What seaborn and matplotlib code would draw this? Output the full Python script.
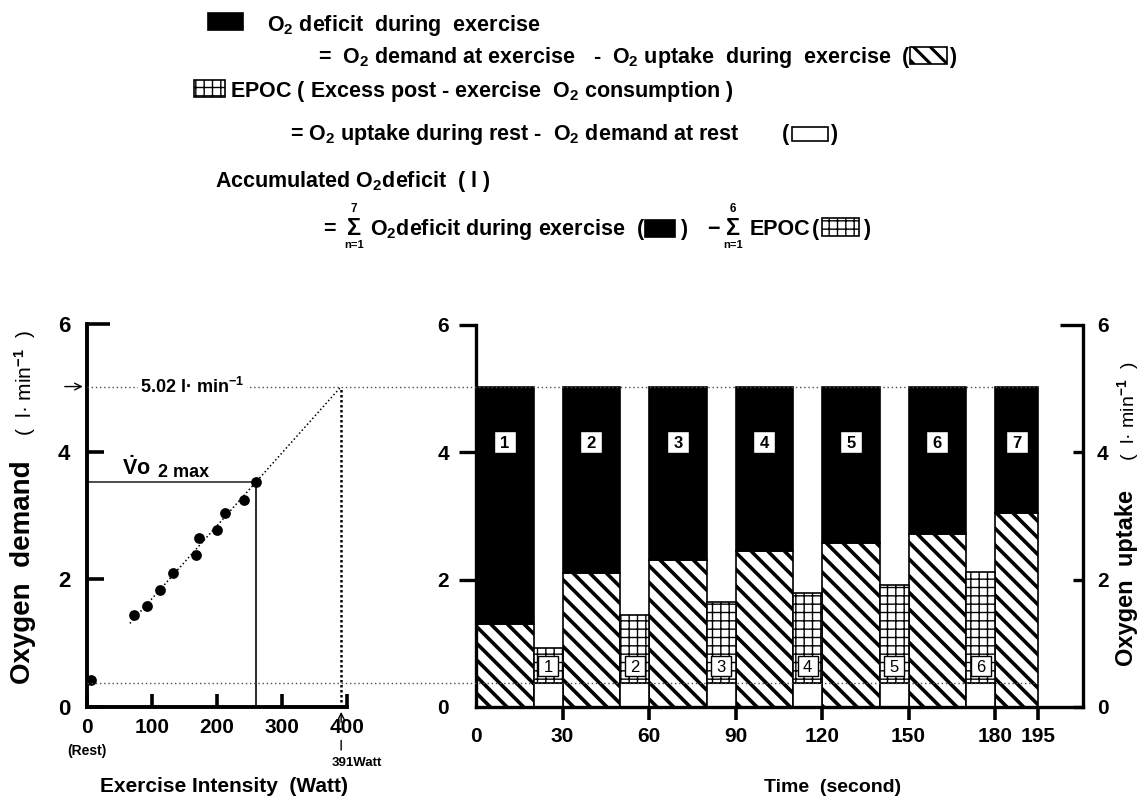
import numpy as np
import pandas as pd
import matplotlib
matplotlib.use("Agg")
import matplotlib.pyplot as plt
import seaborn as sns
from matplotlib.patches import Rectangle
from matplotlib.ticker import FixedLocator, FixedFormatter

# ---------------- data ----------------
# left panel: incremental test (oxygen demand vs. exercise intensity)
watt = [72, 92, 113, 133, 167, 173, 200, 213, 241, 260]
o2_demand = [1.44, 1.58, 1.84, 2.10, 2.38, 2.64, 2.77, 3.04, 3.24, 3.52]
rest_watt = [6]
rest_o2 = [0.43]
vo2max_watt = 260
vo2max = 3.52
fit_watt = [66, 391]
fit_o2 = [1.31, 5.02]
supra_watt = 391
supra_demand = 5.02
rest_demand = 0.38
watt_ticks = [0, 100, 200, 300, 400]
o2_ticks = [0, 2, 4]
o2_top = 6

# right panel: intermittent exercise (oxygen uptake vs. time)
ex_start = [0, 30, 60, 90, 120, 150, 180]
ex_dur = [20, 20, 20, 20, 20, 20, 15]
ex_uptake = [1.31, 2.11, 2.31, 2.45, 2.58, 2.72, 3.04]
ex_labels = ["1", "2", "3", "4", "5", "6", "7"]
rest_start = [20, 50, 80, 110, 140, 170]
rest_dur = [10, 10, 10, 10, 10, 10]
rest_uptake = [0.92, 1.45, 1.65, 1.79, 1.92, 2.12]
rest_labels = ["1", "2", "3", "4", "5", "6"]
time_ticks = [0, 30, 60, 90, 120, 150, 180, 195]

# ---------------- style ----------------
sns.set_theme(style="ticks")
plt.rcParams.update({
    "font.family": ["Liberation Sans", "DejaVu Sans"],
    "font.weight": "bold",
    "mathtext.fontset": "custom",
    "mathtext.rm": "Liberation Sans:bold",
    "mathtext.bf": "Liberation Sans:bold",
    "mathtext.it": "Liberation Sans:bold",
    "mathtext.sf": "Liberation Sans:bold",
    "text.color": "black",
    "axes.labelcolor": "black",
    "axes.edgecolor": "black",
    "xtick.color": "black",
    "ytick.color": "black",
    "hatch.linewidth": 2.6,
    "hatch.color": "black",
})

W, H = 1142, 800
fig = plt.figure(figsize=(W / 100, H / 100), dpi=100)
fig.patch.set_facecolor("white")

ax1 = fig.add_axes([87 / W, 1 - 707 / H, 260 / W, 383 / H])
ax2 = fig.add_axes([476 / W, 1 - 707 / H, 607 / W, 382 / H])
ax3 = ax2.twinx()
ax2.patch.set_visible(False)

# ---------------- left panel ----------------
ax1.set_xlim(0, 400)
ax1.set_ylim(0, 6)
ax1.plot(fit_watt, fit_o2, color="black", lw=1.1, ls=(0, (1, 1.6)), zorder=2)
ax1.hlines(vo2max, 0, vo2max_watt, color="0.3", lw=1.4, zorder=2)
ax1.vlines(vo2max_watt, 0, vo2max, color="0.1", lw=1.3, zorder=2)
ax1.vlines(supra_watt, 0, supra_demand, color="black", lw=1.8,
           linestyles=[(0, (1, 1))], zorder=2)
sns.scatterplot(x=watt, y=o2_demand, ax=ax1, color="black", s=60,
                linewidth=0, zorder=4, legend=False)
sns.scatterplot(x=rest_watt, y=rest_o2, ax=ax1, color="black", s=60,
                linewidth=0, zorder=4, legend=False, clip_on=False)

for side in ("top", "right"):
    ax1.spines[side].set_visible(False)
for side in ("left", "bottom"):
    ax1.spines[side].set_linewidth(2.8)

ax1.set_xticks(watt_ticks)
ax1.set_xticklabels([str(v) for v in watt_ticks])
ax1.set_yticks(o2_ticks)
ax1.set_yticklabels([str(v) for v in o2_ticks])
ax1.yaxis.set_minor_locator(FixedLocator([o2_top]))
ax1.yaxis.set_minor_formatter(FixedFormatter([str(o2_top)]))
ax1.tick_params(axis="x", direction="in", length=9.5, width=2.6,
                labelsize=15, pad=8)
ax1.tick_params(axis="y", which="major", direction="in", length=12.5,
                width=2.6, labelsize=16, pad=12)
ax1.tick_params(axis="y", which="minor", direction="in", length=16.5,
                width=2.6, labelsize=16, pad=12)

# annotations of the left panel
ax1.annotate("", xy=(0, supra_demand), xytext=(-16, 0),
             textcoords="offset points", annotation_clip=False,
             arrowprops=dict(arrowstyle="->", color="black", lw=1.0,
                             shrinkA=0, shrinkB=3))
ax1.annotate("", xy=(supra_watt, 0), xytext=(0, -11),
             textcoords="offset points", annotation_clip=False,
             arrowprops=dict(arrowstyle="->", color="black", lw=1.0,
                             shrinkA=0, shrinkB=3.5))
ax1.annotate("", xy=(supra_watt, 0), xytext=(0, -31),
             textcoords="offset points", annotation_clip=False,
             arrowprops=dict(arrowstyle="-", color="black", lw=1.0,
                             shrinkA=0, shrinkB=24))
ax1.annotate(f"{supra_watt}Watt", xy=(supra_watt, 0), xytext=(-7, -40),
             textcoords="offset points", ha="left", va="center",
             fontsize=9.5, annotation_clip=False)
ax1.annotate("(Rest)", xy=(0, 0), xytext=(0, -32), textcoords="offset points",
             ha="center", va="center", fontsize=10, annotation_clip=False)
ax1.text(54, 3.64, r"$\dot{\mathrm{V}}$o", fontsize=15.5, ha="left",
         va="baseline")
ax1.annotate("2 max", xy=(54, 3.64), xytext=(26, -1.5),
             textcoords="offset points", fontsize=13, ha="left", va="baseline")

# ---------------- right panel ----------------
ax2.set_xlim(0, 210.5)
ax2.set_ylim(0, 6)
ax3.set_ylim(0, 6)

deficit = [supra_demand - u for u in ex_uptake]
epoc = [u - rest_demand for u in rest_uptake]

hatched = ax2.bar(ex_start, ex_uptake, width=ex_dur, align="edge",
                  color="white", edgecolor="black", hatch="\\\\",
                  linewidth=1.2, zorder=1)
ax2.bar(ex_start, deficit, bottom=ex_uptake, width=ex_dur, align="edge",
        color="black", edgecolor="black", linewidth=1.2, zorder=1)
ax2.bar(rest_start, rest_demand, width=rest_dur, align="edge",
        color="white", edgecolor="black", linewidth=1.2, zorder=1)
with plt.rc_context({"hatch.linewidth": 1.0}):
    grid_bars = ax2.bar(rest_start, epoc, bottom=rest_demand, width=rest_dur,
                        align="edge", color="white", edgecolor="black",
                        hatch="++", linewidth=1.2, zorder=1)
for p in grid_bars:
    if hasattr(p, "set_hatch_linewidth"):
        p.set_hatch_linewidth(1.0)
for p in hatched:
    if hasattr(p, "set_hatch_linewidth"):
        p.set_hatch_linewidth(2.6)

# dotted reference lines spanning both panels
x_left = ax2.transData.inverted().transform(
    ax1.transData.transform((0, 0)))[0]
x_end = ex_start[-1] + ex_dur[-1]
for yv in (supra_demand, rest_demand):
    ax2.plot([x_left, x_end], [yv, yv], ls=(0, (1, 2)), color="0.3", lw=1.0,
             clip_on=False, zorder=3)

ax2.text(82, supra_demand, "5.02 l· min$^{-1}$", transform=ax1.transData,
         fontsize=13, ha="left", va="center", zorder=6,
         bbox=dict(facecolor="white", edgecolor="none", pad=1.5))

# numbered boxes
ex_mid = [s + d / 2 for s, d in zip(ex_start, ex_dur)]
rest_mid = [s + d / 2 for s, d in zip(rest_start, rest_dur)]
ax2.scatter(ex_mid, [4.17] * len(ex_mid), marker="s", s=250,
            facecolor="white", edgecolor="black", linewidth=1.0, zorder=4)
for x, lab in zip(ex_mid, ex_labels):
    ax2.text(x, 4.17, lab, ha="center", va="center_baseline", fontsize=12,
             zorder=5)
ax2.scatter(rest_mid, [0.64] * len(rest_mid), marker="s", s=205,
            facecolor="white", edgecolor="black", linewidth=1.0, zorder=4)
for x, lab in zip(rest_mid, rest_labels):
    ax2.text(x, 0.64, lab, ha="center", va="center_baseline", fontsize=12,
             fontweight="normal", zorder=5)

for side in ("top", "right"):
    ax2.spines[side].set_visible(False)
for side in ("left", "bottom"):
    ax2.spines[side].set_linewidth(2.4)
for side in ("top", "left", "bottom"):
    ax3.spines[side].set_visible(False)
ax3.spines["right"].set_linewidth(2.4)

ax2.set_xticks(time_ticks)
ax2.set_xticklabels([str(v) for v in time_ticks])
ax2.set_yticks([0, 2, 4, 6])
ax2.set_yticklabels(["0", "2", "4", "6"])
ax2.tick_params(axis="x", direction="out", length=9.5, width=2.6,
                labelsize=15, pad=5)
ax2.tick_params(axis="y", direction="out", length=12.5, width=2.4,
                labelsize=15, pad=7)
ax2.xaxis.get_major_ticks()[0].tick1line.set_visible(False)
ax2.yaxis.get_major_ticks()[0].tick1line.set_visible(False)

ax3.set_yticks(o2_ticks)
ax3.set_yticklabels([str(v) for v in o2_ticks])
ax3.yaxis.set_minor_locator(FixedLocator([o2_top]))
ax3.yaxis.set_minor_formatter(FixedFormatter([str(o2_top)]))
ax3.tick_params(axis="y", which="major", direction="in", length=7,
                width=2.4, labelsize=15, pad=10)
ax3.tick_params(axis="y", which="minor", direction="in", length=16.5,
                width=2.4, labelsize=15, pad=10)

# ---------------- axis titles ----------------
def ftext(x, y, s, size=15.5, weight="bold", ha="left", va="baseline",
          rotation=0):
    fig.text(x / W, 1 - y / H, s, fontsize=size, fontweight=weight, ha=ha,
             va=va, rotation=rotation)

ftext(23, 572, "Oxygen  demand", size=20, ha="center", va="center",
      rotation=90)
ftext(25, 383, "(  l· min$^{-1}$  )", size=15, weight="normal", ha="center",
      va="center", rotation=90)
ftext(1127, 578, "Oxygen  uptake", size=17, ha="center", va="center",
      rotation=90)
ftext(1128, 411, "(  l· min$^{-1}$  )", size=14, weight="normal",
      ha="center", va="center", rotation=90)
ftext(224, 787, "Exercise Intensity  (Watt)", size=15, ha="center",
      va="center")
ftext(833, 787, "Time  (second)", size=14, ha="center", va="center")

# ---------------- header / key ----------------
def ficon(x, y, w, h, kind, hlw=2.0):
    fc = "black" if kind == "black" else "white"
    hatch = {"diag": "\\\\", "grid": "++"}.get(kind)
    with plt.rc_context({"hatch.linewidth": hlw}):
        r = Rectangle((x / W, 1 - (y + h) / H), w / W, h / H,
                      transform=fig.transFigure, facecolor=fc,
                      edgecolor="black", lw=1.2, hatch=hatch)
    if hasattr(r, "set_hatch_linewidth"):
        r.set_hatch_linewidth(hlw)
    fig.add_artist(r)

def sigma(xc, base, top):
    ftext(xc, base, "Σ", size=17, ha="center")
    ftext(xc, base - 23, top, size=8.5, ha="center")
    ftext(xc, base + 13, "n=1", size=8, ha="center")

ficon(208, 13, 35, 17, "black")
ftext(267, 30.5, "O$_2$ deficit  during  exercise")
ftext(318, 63, "=  O$_2$ demand at exercise")
ftext(593, 63, "-")
ftext(612, 63, "O$_2$ uptake  during  exercise")
ftext(902, 63, "(")
ficon(910, 47, 37, 17, "diag", hlw=2.2)
ftext(949, 63, ")")

ficon(194, 80, 31, 17, "grid", hlw=1.0)
ftext(230, 97, "EPOC ( Excess post - exercise  O$_2$ consumption )")

ftext(290, 140, "= O$_2$ uptake during rest -  O$_2$ demand at rest")
ftext(782, 140, "(")
ficon(792, 127, 36, 14, "white")
ftext(830, 140, ")")

ftext(215, 187, "Accumulated O$_2$deficit  ( l )")

ftext(323, 235, "=")
sigma(354, 235, "7")
ftext(370, 235, "O$_2$deficit during exercise  (")
ficon(645, 220, 30, 17, "black")
ftext(680, 235, ")")
ftext(707, 235, "−")
sigma(733, 235, "6")
ftext(750, 235, "EPOC")
ftext(812, 235, "(")
ficon(822, 218, 37, 18, "grid", hlw=1.0)
ftext(863, 235, ")")

fig.savefig("out.png", dpi=100, facecolor="white")
